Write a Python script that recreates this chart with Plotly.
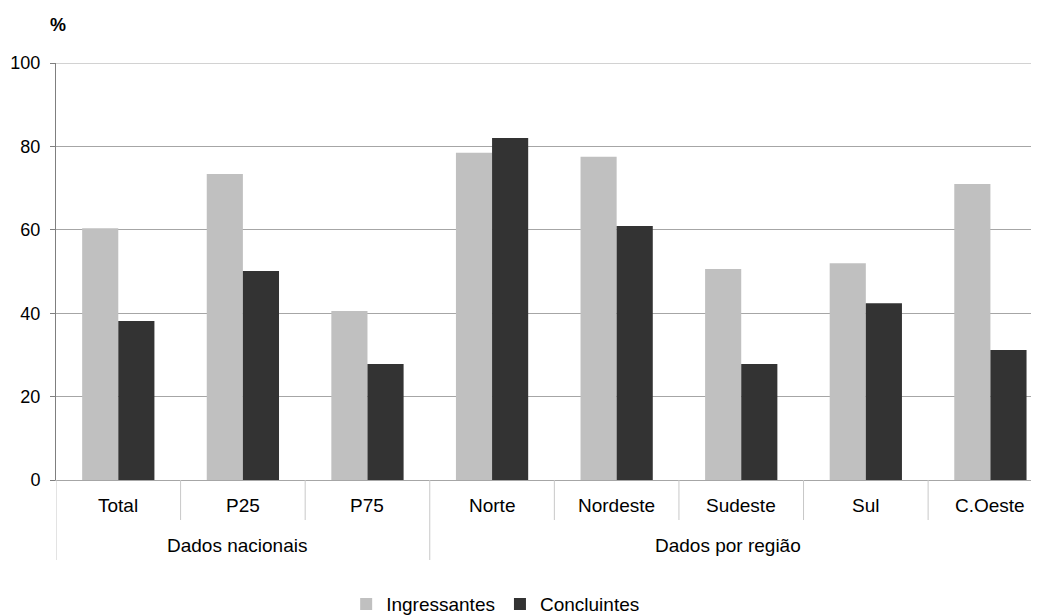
import plotly.graph_objects as go

groups = ["Dados nacionais", "Dados por região"]
group_spans = [(-0.5, 2.5), (2.5, 7.39)]
categories = ["Total", "P25", "P75", "Norte", "Nordeste", "Sudeste", "Sul", "C.Oeste"]
ingressantes = [60.4, 73.4, 40.5, 78.5, 77.5, 50.6, 52.0, 71.0]
concluintes = [38.1, 50.1, 27.8, 82.0, 60.9, 27.8, 42.4, 31.2]
y_ticks = [0, 20, 40, 60, 80, 100]

FONT = "Liberation Sans, Arial, sans-serif"
PLOT_H = 417.0

fig = go.Figure()
fig.add_trace(go.Bar(x=categories, y=ingressantes, name="Ingressantes",
                     marker=dict(color="#c0c0c0", line=dict(width=0))))
fig.add_trace(go.Bar(x=categories, y=concluintes, name="Concluintes",
                     marker=dict(color="#333333", line=dict(width=0))))

shapes = []
annotations = []
# top gridline at 100
shapes.append(dict(type="line", xref="paper", yref="y", x0=0, x1=1, y0=100, y1=100,
                   line=dict(color="#a6a6a6", width=1), layer="below"))
# inner dividers
for i in range(len(categories) - 1):
    b = i + 0.5
    is_outer = any(abs(b - s[0]) < 1e-9 for s in group_spans)
    if not is_outer:
        shapes.append(dict(type="line", xref="x", yref="paper", x0=b, x1=b,
                           y0=0, y1=-40 / PLOT_H, line=dict(color="#c8c8c8", width=1)))
# outer dividers
for s in group_spans:
    shapes.append(dict(type="line", xref="x", yref="paper", x0=s[0], x1=s[0],
                       y0=0, y1=-80 / PLOT_H, line=dict(color="#c8c8c8", width=1)))
# category labels
for i, c in enumerate(categories):
    annotations.append(dict(text=c, xref="x", yref="paper", x=i, y=-25 / PLOT_H,
                            xanchor="center", yanchor="middle", showarrow=False,
                            font=dict(size=19, family=FONT, color="#000000")))
# group labels
for g, s in zip(groups, group_spans):
    annotations.append(dict(text=g, xref="x", yref="paper", x=(s[0] + s[1]) / 2 - 0.05,
                            y=-65 / PLOT_H, xanchor="center", yanchor="middle",
                            showarrow=False,
                            font=dict(size=19, family=FONT, color="#000000")))
annotations.append(dict(text="<b>%</b>", xref="paper", yref="paper", x=0.002, y=1.092,
                        xanchor="center", yanchor="middle", showarrow=False,
                        font=dict(size=18, family=FONT, color="#000000")))

fig.update_layout(
    width=1031, height=607,
    margin=dict(l=48, r=0, t=55, b=135, autoexpand=False),
    paper_bgcolor="white", plot_bgcolor="white",
    barmode="group", bargap=0.42, bargroupgap=0,
    font=dict(family=FONT, size=18, color="#000000"),
    showlegend=True,
    legend=dict(orientation="h", xref="container", x=0.473, xanchor="center",
                yref="container", y=0.018, yanchor="middle",
                font=dict(size=19), itemwidth=30, traceorder="normal",
                bgcolor="rgba(0,0,0,0)"),
    xaxis=dict(type="category", range=[-0.5, 7.39],
               showline=True, linecolor="#a6a6a6", linewidth=1,
               showticklabels=False, ticks="", showgrid=False, zeroline=False),
    yaxis=dict(range=[0, 100], tickvals=y_ticks, ticktext=[str(v) for v in y_ticks],
               showgrid=True, gridcolor="#a6a6a6", gridwidth=1,
               showline=True, linecolor="#7f7f7f", linewidth=1,
               ticks="outside", ticklen=5, tickcolor="#7f7f7f",
               ticklabelstandoff=6,
               zeroline=False, tickfont=dict(size=18)),
    shapes=shapes,
    annotations=annotations,
)

fig.write_html("out.html")
